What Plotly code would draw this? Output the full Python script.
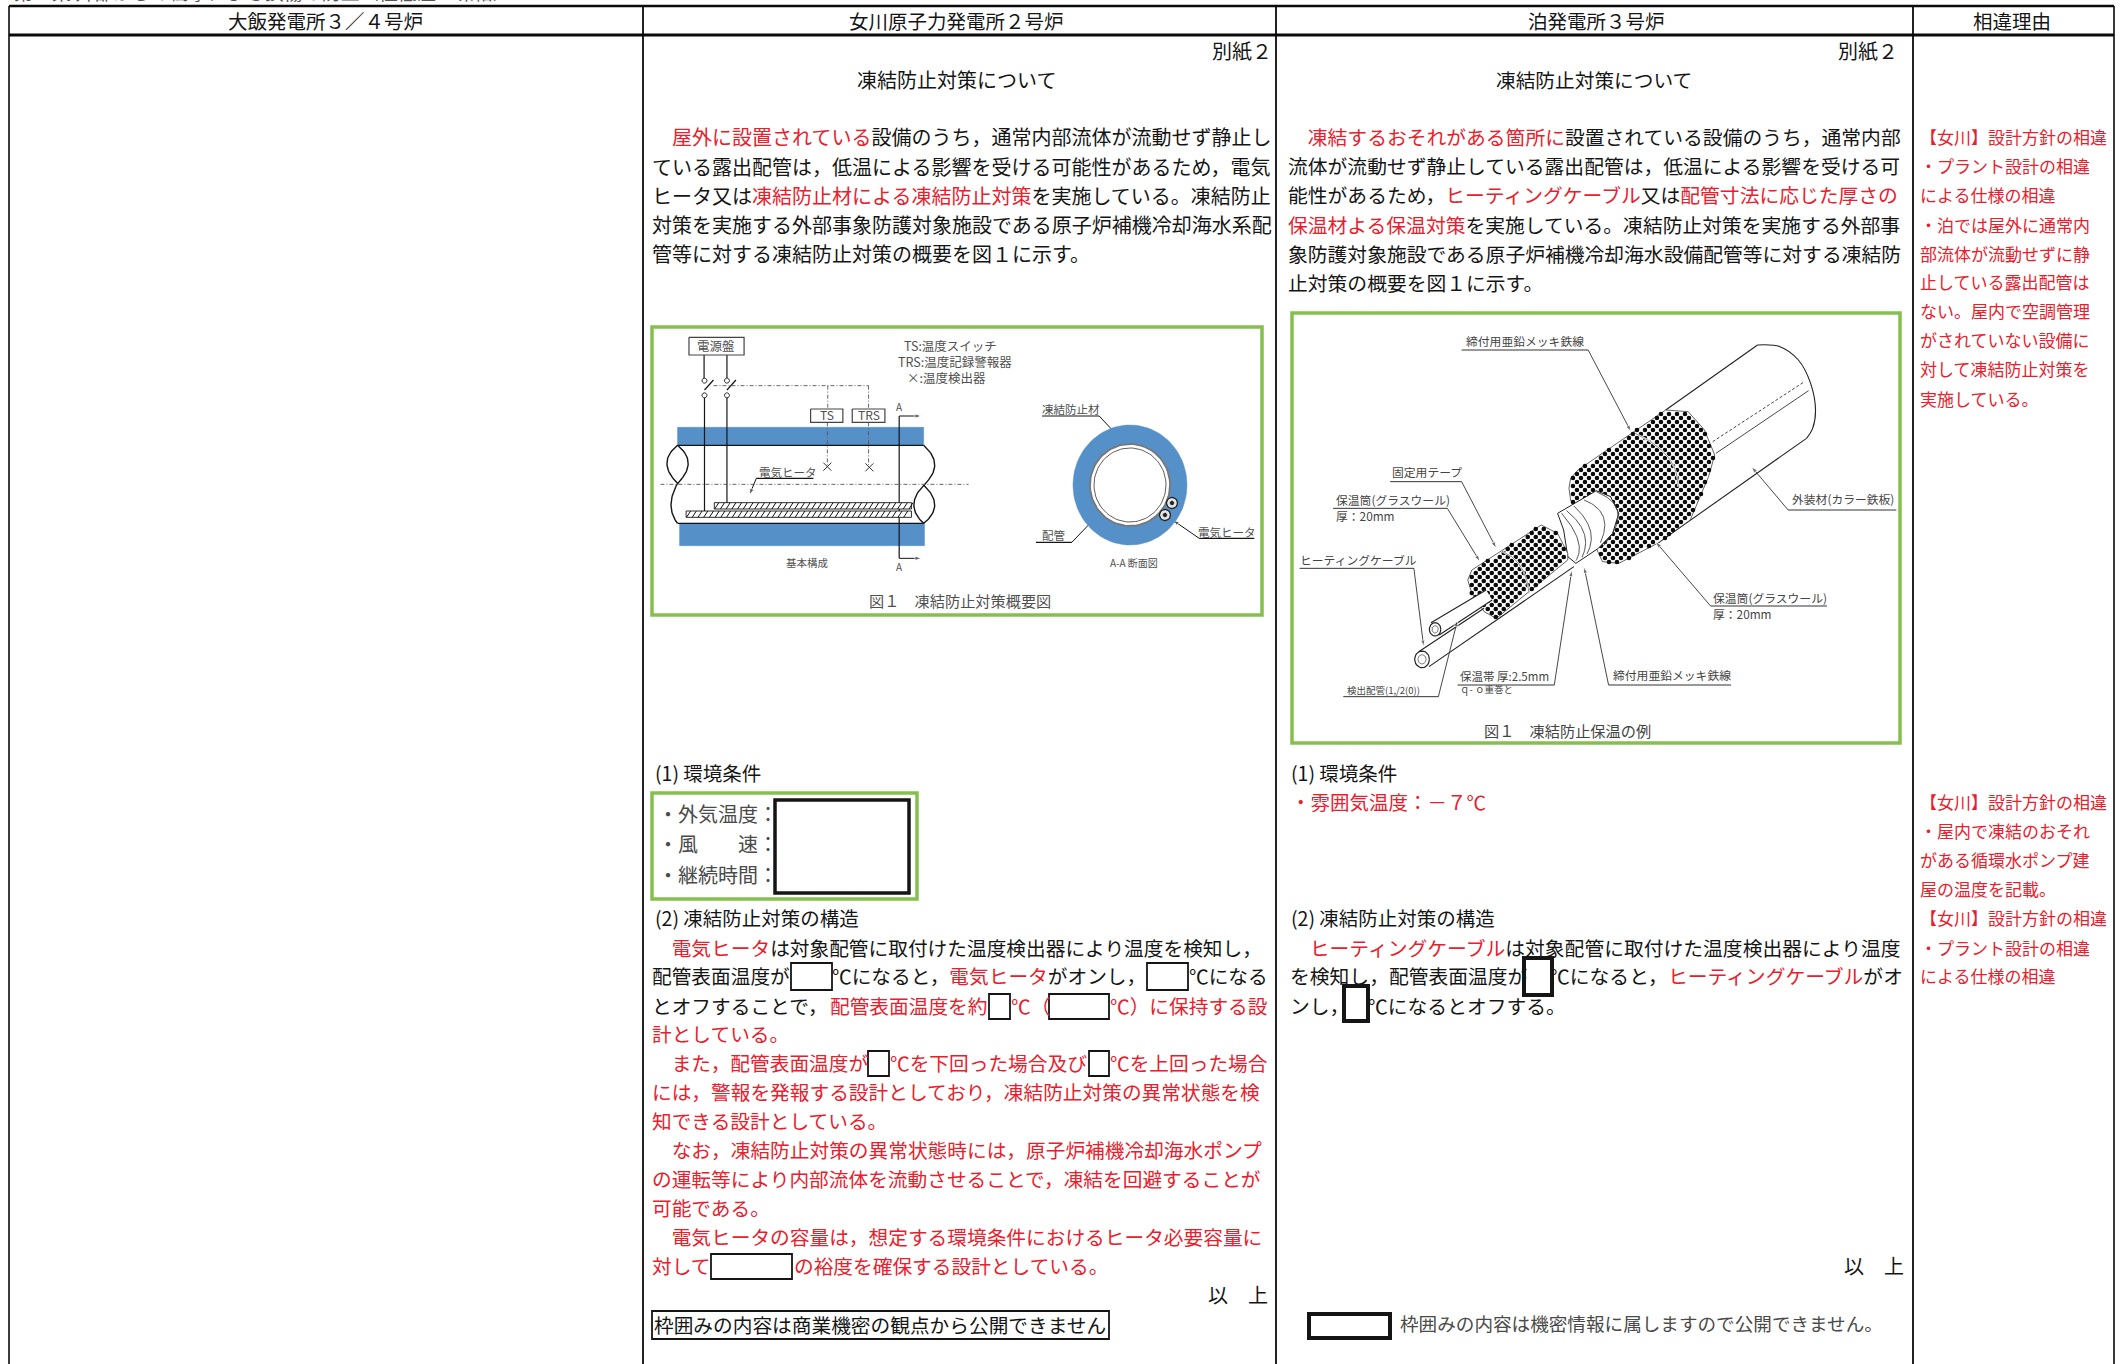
import numpy as np
import plotly.graph_objects as go

W, H = 2121, 1364
FONT = "Noto Sans CJK JP"
BLACK, RED, GRAY, GREEN, BLUE = "#151515", "#e9202c", "#4a4a4a", "#85c04e", "#5590c8"

# ---------- table ----------
table_top, header_bottom = 6, 35
col_edges = [9, 643, 1276, 1913, 2114]
header_labels = ["大飯発電所３／４号炉", "女川原子力発電所２号炉", "泊発電所３号炉", "相違理由"]
header_centers = [325, 956, 1596, 2012]

# ---------- text: (x, y, size, anchor, [(text, colour), ...]) ----------
PAGE_TITLE = "第６条 外部からの衝撃による損傷の防止（極低温・凍結）"
K, R = BLACK, RED
onagawa_lines = [
    (1272, 52, 20, "right", [("別紙２", K)]),
    (956, 81, 20, "center", [("凍結防止対策について", K)]),
    (652, 138, 20, "left", [("　", K), ("屋外に設置されている", R), ("設備のうち，通常内部流体が流動せず静止し", K)]),
    (652, 168, 20, "left", [("ている露出配管は，低温による影響を受ける可能性があるため，電気", K)]),
    (652, 197, 20, "left", [("ヒータ又は", K), ("凍結防止材による凍結防止対策", R), ("を実施している。凍結防止", K)]),
    (652, 226, 20, "left", [("対策を実施する外部事象防護対象施設である原子炉補機冷却海水系配", K)]),
    (652, 255, 20, "left", [("管等に対する凍結防止対策の概要を図１に示す。", K)]),
    (655, 774, 19.5, "left", [("(1) 環境条件", K)]),
    (655, 919, 19.5, "left", [("(2) 凍結防止対策の構造", K)]),
    (652, 948.5, 19.7, "left", [("　", K), ("電気ヒータ", R), ("は対象配管に取付けた温度検出器により温度を検知し，", K)]),
    (652, 977, 19.7, "left", [("配管表面温度が", K)]),
    (832, 977, 19.7, "left", [("℃になると，", K), ("電気ヒータ", R), ("がオンし，", K)]),
    (1189, 977, 19.7, "left", [("℃になる", K)]),
    (652, 1006.5, 19.7, "left", [("とオフすることで，", K)]),
    (830, 1006.5, 19.7, "left", [("配管表面温度を約", R)]),
    (1011, 1006.5, 19.7, "left", [("℃（", R)]),
    (1110, 1006.5, 19.7, "left", [("℃）に保持する設", R)]),
    (652, 1035, 19.7, "left", [("計としている。", R)]),
    (652, 1064, 19.7, "left", [("　また，配管表面温度が", R)]),
    (890, 1064, 19.7, "left", [("℃を下回った場合及び", R)]),
    (1110, 1064, 19.7, "left", [("℃を上回った場合", R)]),
    (652, 1093, 19.7, "left", [("には，警報を発報する設計としており，凍結防止対策の異常状態を検", R)]),
    (652, 1122, 19.7, "left", [("知できる設計としている。", R)]),
    (652, 1151, 19.7, "left", [("　なお，凍結防止対策の異常状態時には，原子炉補機冷却海水ポンプ", R)]),
    (652, 1180, 19.7, "left", [("の運転等により内部流体を流動させることで，凍結を回避することが", R)]),
    (652, 1209, 19.7, "left", [("可能である。", R)]),
    (652, 1237.5, 19.7, "left", [("　電気ヒータの容量は，想定する環境条件におけるヒータ必要容量に", R)]),
    (652, 1267, 19.7, "left", [("対して", R)]),
    (794, 1267, 19.7, "left", [("の裕度を確保する設計としている。", R)]),
    (1268, 1296, 20, "right", [("以　上", K)]),
    (654, 1325.5, 19.7, "left", [("枠囲みの内容は商業機密の観点から公開できません", K)]),
    (658, 815, 20, "left", [("・外気温度：", GRAY)]),
    (658, 845, 20, "left", [("・風　　速：", GRAY)]),
    (658, 876, 20, "left", [("・継続時間：", GRAY)]),
]
tomari_lines = [
    (1898, 52, 20, "right", [("別紙２", K)]),
    (1594, 81, 19.7, "center", [("凍結防止対策について", K)]),
    (1288, 138, 19.8, "left", [("　", K), ("凍結するおそれがある箇所に", R), ("設置されている設備のうち，通常内部", K)]),
    (1288, 167, 19.8, "left", [("流体が流動せず静止している露出配管は，低温による影響を受ける可", K)]),
    (1288, 196, 19.8, "left", [("能性があるため，", K), ("ヒーティングケーブル", R), ("又は", K), ("配管寸法に応じた厚さの", R)]),
    (1288, 226, 19.8, "left", [("保温材よる保温対策", R), ("を実施している。凍結防止対策を実施する外部事", K)]),
    (1288, 255, 19.8, "left", [("象防護対象施設である原子炉補機冷却海水設備配管等に対する凍結防", K)]),
    (1288, 284, 19.8, "left", [("止対策の概要を図１に示す。", K)]),
    (1291, 774, 19.5, "left", [("(1) 環境条件", K)]),
    (1291, 803, 19.5, "left", [("・雰囲気温度：－７℃", R)]),
    (1291, 919, 19.5, "left", [("(2) 凍結防止対策の構造", K)]),
    (1290, 948.5, 19.8, "left", [("　", K), ("ヒーティングケーブル", R), ("は対象配管に取付けた温度検出器により温度", K)]),
    (1290, 977, 19.8, "left", [("を検知し，配管表面温度が", K)]),
    (1550, 977, 19.8, "left", [("℃になると，", K), ("ヒーティングケーブル", R), ("がオ", K)]),
    (1290, 1006.5, 19.8, "left", [("ンし，", K)]),
    (1368, 1006.5, 19.8, "left", [("℃になるとオフする。", K)]),
    (1904, 1267, 20, "right", [("以　上", K)]),
    (1400, 1324, 18.6, "left", [("枠囲みの内容は機密情報に属しますので公開できません。", GRAY)]),
]
reason_x = 1920
reason_size = 17
reason_lines = [
    (138, "【女川】設計方針の相違"), (167, "・プラント設計の相違"), (196, "による仕様の相違"),
    (226, "・泊では屋外に通常内"), (255, "部流体が流動せずに静"), (283, "止している露出配管は"),
    (312, "ない。屋内で空調管理"), (341, "がされていない設備に"), (370, "対して凍結防止対策を"),
    (400, "実施している。"),
    (803, "【女川】設計方針の相違"), (832, "・屋内で凍結のおそれ"), (861, "がある循環水ポンプ建"),
    (890, "屋の温度を記載。"), (919, "【女川】設計方針の相違"), (948.5, "・プラント設計の相違"),
    (977, "による仕様の相違"),
]

# ---------- framed boxes: x0, y0, x1, y1, colour, width ----------
boxes = [
    (652, 327, 1262, 615, GREEN, 3.5),
    (1292, 313, 1900, 743, GREEN, 3.5),
    (652, 793, 917, 899, GREEN, 3.5),
    (775, 800, 909, 893, BLACK, 3.5),
    (791, 963, 832, 990, BLACK, 1.8), (1147, 963, 1188, 990, BLACK, 1.8),
    (989, 994, 1010, 1019, BLACK, 1.8), (1049, 994, 1109, 1019, BLACK, 1.8),
    (868, 1051, 889, 1076, BLACK, 1.8), (1089, 1051, 1109, 1076, BLACK, 1.8),
    (711, 1254, 792, 1279, BLACK, 1.8),
    (652, 1311, 1109, 1339, BLACK, 1.8),
    (1524, 958, 1552, 995, BLACK, 4), (1344, 986, 1368, 1021, BLACK, 4),
    (1309, 1314, 1390, 1338, BLACK, 4),
]

# ---------- figure 1 (freeze protection schematic), reference-crop coordinates ----------
fig1_texts = [
    (187, 110, 12.5, "center", "電源盤"), (648, 112, 12.5, "left", "TS:温度スイッチ"),
    (632, 160, 12.5, "left", "TRS:温度記録警報器"), (655, 208, 12.5, "left", "×:温度検出器"),
    (457, 318, 12, "center", "TS"), (560, 318, 12, "center", "TRS"),
    (636, 295, 10, "center", "A"), (636, 775, 10, "center", "A"),
    (362, 490, 11.5, "center", "電気ヒータ"), (410, 762, 10.5, "center", "基本構成"),
    (1210, 762, 10, "center", "A-A 断面図"), (1055, 300, 11.5, "center", "凍結防止材"),
    (1012, 678, 11.5, "center", "配管"), (1438, 670, 11.5, "center", "電気ヒータ"),
    (785, 873, 15.2, "center", "図１　凍結防止対策概要図"),
]
fig1_rects = [(120, 82, 255, 135), (418, 297, 497, 337), (520, 297, 600, 337)]
fig1_blue = [(92, 352, 695, 405), (97, 640, 697, 707)]
pipe_curves = [
    [(92, 406), (118, 460), (92, 520), (76, 585), (92, 640)],
    [(92, 406), (66, 460), (92, 520)],
    [(695, 406), (722, 465), (695, 525), (671, 585), (695, 640)],
    [(695, 525), (722, 585), (695, 640)],
]
fig1_solid = [
    [(92, 406), (695, 406)], [(92, 640), (695, 640)],
    [(157, 135), (157, 205)], [(213, 135), (213, 205)],
    [(158, 262), (158, 605)], [(213, 262), (213, 580)],
    [(158, 240), (180, 210)], [(213, 240), (235, 210)],
    [(635, 318), (635, 745)],
    [(985, 318), (1125, 318)], [(970, 697), (1058, 697)], [(1370, 685), (1505, 685)],
    [(285, 505), (425, 505)],
]
fig1_dashed = [
    [(180, 227), (560, 227)], [(460, 227), (460, 297)], [(560, 227), (560, 297)],
    [(459, 337), (459, 468)], [(560, 337), (560, 465)], [(50, 523), (805, 523)],
]
fig1_switch_dots = [(158, 212), (213, 212), (158, 256), (213, 256)]
fig1_crosses = [(459, 470), (562, 472)]
fig1_arrows = [
    [(635, 318), (690, 318)], [(635, 745), (690, 745)], [(285, 505), (268, 555)],
    [(1125, 318), (1180, 390)], [(1058, 697), (1130, 605)], [(1370, 685), (1305, 630)],
]
heater_bars = [(182, 578, 665, 597), (113, 603, 665, 622)]
section_center = (1130, 485)  # full-size pixels
section_radii = {"outer": (57, 60), "ring": (40, 41), "bore": (36, 37)}
section_heaters = [(1172, 503), (1165, 515)]

# ---------- figure 2 (insulation example), reference-crop coordinates ----------
fig2_texts = [
    (600, 125, 11.8, "center", "締付用亜鉛メッキ鉄線"), (360, 520, 11.8, "center", "固定用テープ"),
    (137, 603, 11.8, "left", "保温筒(グラスウール)"), (137, 650, 11.8, "left", "厚：20mm"),
    (50, 783, 11.8, "left", "ヒーティングケーブル"), (1255, 600, 11.8, "left", "外装材(カラー鉄板)"),
    (1062, 898, 11.8, "left", "保温筒(グラスウール)"), (1062, 945, 11.8, "left", "厚：20mm"),
    (440, 1132, 11.5, "left", "保温帯 厚:2.5mm"), (440, 1172, 9.5, "left", "ｑ- ｏ重巻と"),
    (815, 1127, 11.8, "left", "締付用亜鉛メッキ鉄線"), (165, 1175, 9.5, "left", "検出配管(1,/2(0))"),
    (705, 1295, 15.2, "center", "図１　凍結防止保温の例"),
]
fig2_leaders = [
    ([(445, 150), (755, 150)], (860, 395)), ([(270, 545), (445, 545)], (530, 745)),
    ([(130, 625), (410, 625)], (490, 785)), ([(48, 805), (328, 805)], (352, 1040)),
    ([(1510, 630), (1245, 630)], (1155, 500)), ([(1340, 918), (1055, 918)], (920, 725)),
    ([(435, 1155), (672, 1155)], (715, 810)), ([(1105, 1155), (805, 1155)], (745, 800)),
    ([(155, 1190), (388, 1190)], (435, 960)),
]
jacket_top = [(945, 330), (1170, 135)]
jacket_end = [(1170, 135), (1225, 140), (1270, 180), (1300, 250), (1312, 330), (1305, 385), (1290, 415)]
jacket_bottom = [(1290, 415), (925, 730)]
checker_large = [(712, 535), (730, 510), (945, 330), (1000, 335), (1040, 390), (1065, 465),
                 (1050, 530), (1005, 660), (925, 730), (830, 790), (790, 785), (775, 745),
                 (712, 600), (708, 565)]
middle_band = [(680, 640), (775, 572), (810, 590), (830, 640), (815, 700), (780, 745), (725, 790),
               (705, 770), (695, 690)]
checker_small = [(470, 810), (640, 675), (680, 700), (705, 760), (705, 780), (530, 955),
                 (500, 935), (470, 880), (460, 840)]
band_arcs = [
    [(690, 640), (730, 720), (725, 782)], [(702, 632), (745, 700), (740, 772)],
    [(720, 618), (760, 690), (752, 762)], [(745, 600), (792, 650), (785, 728)],
    [(775, 575), (828, 640), (792, 738)],
]
wire_arcs = [[(870, 400), (950, 470), (975, 560), (960, 640)], [(545, 755), (590, 800), (610, 880)]]
fig2_lines = [
    [(1060, 425), (1285, 245)], [(1068, 460), (1295, 272)], [(340, 1055), (500, 925)],
    [(365, 1100), (720, 800)], [(370, 968), (505, 870)], [(390, 1005), (520, 900)],
]
tube_ends = [(348, 1078, 18, 25), (380, 988, 14, 20)]


def a(x, y):
    return 640 + x / 2.45, 310 + y / 3


def b(x, y):
    return 1280 + x / 2.45, 300 + y / 3


fig = go.Figure()


def poly(pts, fill=None, color=BLACK, width=1.0, dash=None, close=False, shape="linear"):
    xs = [p[0] for p in pts]
    ys = [p[1] for p in pts]
    if close:
        xs.append(xs[0])
        ys.append(ys[0])
    fig.add_trace(go.Scatter(
        x=xs, y=ys, mode="lines", hoverinfo="skip", showlegend=False,
        line=dict(color=color, width=width, dash=dash, shape=shape) if width else dict(width=0),
        fill="toself" if fill else None, fillcolor=fill))


def smooth(pts, n=30):
    """Quadratic-style smoothing through control points."""
    pts = np.array(pts, float)
    out = []
    for i in range(0, len(pts) - 2, 2):
        p0, p1, p2 = pts[i], pts[i + 1], pts[i + 2]
        c = 2 * p1 - (p0 + p2) / 2
        for t in np.linspace(0, 1, n):
            out.append(tuple((1 - t) ** 2 * p0 + 2 * t * (1 - t) * c + t ** 2 * p2))
    return out


def ellipse(cx, cy, rx, ry, n=90):
    t = np.linspace(0, 2 * np.pi, n)
    return list(zip(cx + rx * np.cos(t), cy + ry * np.sin(t)))


def arrow(p, q, color=BLACK, width=1.0, size=7):
    fig.add_trace(go.Scatter(
        x=[p[0], q[0]], y=[p[1], q[1]], mode="lines+markers", hoverinfo="skip", showlegend=False,
        line=dict(color=color, width=width),
        marker=dict(symbol="arrow", angleref="previous", size=[0, size], color=color)))


def inside(px, py, pts):
    pts = np.array(pts, float)
    res = np.zeros_like(px, dtype=bool)
    x1, y1 = pts[:, 0], pts[:, 1]
    x2, y2 = np.roll(x1, -1), np.roll(y1, -1)
    for xa, ya, xb, yb in zip(x1, y1, x2, y2):
        cond = (ya > py) != (yb > py)
        with np.errstate(divide="ignore", invalid="ignore"):
            xi = (xb - xa) * (py - ya) / (yb - ya) + xa
        res ^= cond & (px < xi)
    return res


def checker(pts, pitch=8.0):
    xs = [p[0] for p in pts]
    ys = [p[1] for p in pts]
    gx, gy = [], []
    row = 0
    y = min(ys)
    while y <= max(ys):
        gx_row = np.arange(min(xs) + (row % 2) * pitch / 2, max(xs), pitch)
        gx.append(gx_row)
        gy.append(np.full_like(gx_row, y))
        y += pitch / 2
        row += 1
    gx = np.concatenate(gx)
    gy = np.concatenate(gy)
    m = inside(gx, gy, pts)
    fig.add_trace(go.Scatter(
        x=gx[m], y=gy[m], mode="markers", hoverinfo="skip", showlegend=False,
        marker=dict(symbol="circle", size=4.6, color="#0a0a0a", line=dict(width=0))))


# ----- figure 1 -----
for x0, y0, x1, y1 in fig1_blue:
    poly([a(x0, y0), a(x1, y0), a(x1, y1), a(x0, y1)], fill=BLUE, color=BLUE, width=0.5, close=True)
for c in pipe_curves:
    poly([a(*p) for p in smooth(c)], color=BLACK, width=1.4)
for seg in fig1_solid:
    poly([a(*p) for p in seg], color=BLACK, width=1.2)
for seg in fig1_dashed:
    poly([a(*p) for p in seg], color="#555555", width=0.9, dash="4px,2px,1px,2px")
for x0, y0, x1, y1 in fig1_rects:
    poly([a(x0, y0), a(x1, y0), a(x1, y1), a(x0, y1)], color="#444444", width=1.2, close=True)
for p in fig1_switch_dots:
    cx, cy = a(*p)
    poly(ellipse(cx, cy, 2.5, 2.5, 20), fill="white", color=BLACK, width=0.9)
for p in fig1_crosses:
    cx, cy = a(*p)
    poly([(cx - 4, cy - 4), (cx + 4, cy + 4)], color="#333333", width=1)
    poly([(cx - 4, cy + 4), (cx + 4, cy - 4)], color="#333333", width=1)
for x0, y0, x1, y1 in heater_bars:
    poly([a(x0, y0), a(x1, y0), a(x1, y1), a(x0, y1)], fill="white", color=BLACK, width=0.9, close=True)
    tx, ty = [], []
    for xt in np.arange(x0 + 6, x1, 14):
        tx += [a(xt - 5, y1)[0], a(xt + 5, y0)[0], None]
        ty += [a(xt - 5, y1)[1], a(xt + 5, y0)[1], None]
    fig.add_trace(go.Scatter(x=tx, y=ty, mode="lines", hoverinfo="skip", showlegend=False,
                             line=dict(color="#111111", width=1.0)))
for p, q in fig1_arrows:
    arrow(a(*p), a(*q))
cx, cy = section_center
poly(ellipse(cx, cy, *section_radii["outer"]), fill=BLUE, color=BLUE, width=0.5)
poly(ellipse(cx, cy, *section_radii["ring"]), fill="white", color="#777777", width=1.8)
poly(ellipse(cx, cy, *section_radii["bore"]), fill="white", color="#333333", width=0.8)
for hx, hy in section_heaters:
    poly(ellipse(hx, hy, 5.5, 5.5, 24), fill="#e8e8e8", color="#222222", width=1.3)
    poly(ellipse(hx, hy, 2, 2, 16), fill="#222222", color="#222222", width=0.5)

# ----- figure 2 -----
poly([b(*p) for p in jacket_top], color="#222222", width=1.1)
poly([b(*p) for p in jacket_end], color="#222222", width=1.1, shape="spline")
poly([b(*p) for p in jacket_bottom], color="#222222", width=1.1)
for i, seg in enumerate(fig2_lines[:2]):
    poly([b(*p) for p in seg], color="#333333", width=0.9, dash="3px,2px" if i == 0 else None)
poly([b(*p) for p in checker_large], fill="white", color="#222222", width=0.7, close=True)
checker([b(*p) for p in checker_large])
poly([b(*p) for p in middle_band], fill="white", color="#222222", width=1, close=True)
for arc in band_arcs:
    poly([b(*p) for p in smooth(arc)], color="#444444", width=0.9)
poly([b(*p) for p in checker_small], fill="white", color="#222222", width=0.7, close=True)
checker([b(*p) for p in checker_small])
for arc in wire_arcs:
    pts = arc if len(arc) % 2 == 1 else arc[:-1]
    poly([b(*p) for p in smooth(pts)], color="#ffffff", width=1.8)
    poly([b(*p) for p in smooth(pts)], color="#444444", width=0.6)
poly([b(370, 968), b(505, 870), b(520, 900), b(390, 1005)], fill="white", color="white", width=0.1, close=True)
for seg in fig2_lines[2:]:
    poly([b(*p) for p in seg], color="#222222", width=1.1)
for ex, ey, rx, ry in tube_ends:
    cxe, cye = b(ex, ey)
    poly(ellipse(cxe, cye, rx / 2.45, ry / 3, 30), fill="white", color="#222222", width=1.2)
    poly(ellipse(cxe, cye, rx / 2.45 * 0.55, ry / 3 * 0.55, 24), fill="white", color="#444444", width=0.7)
for under, tip in fig2_leaders:
    poly([b(*p) for p in under], color="#333333", width=1)
    arrow(b(*under[1]), b(*tip), color="#333333", width=0.9)


# ----- shapes: table rules, framed boxes -----
def rule(x0, y0, x1, y1, w, color="#0a0a0a"):
    fig.add_shape(type="line", x0=x0, y0=y0, x1=x1, y1=y1, xref="x", yref="y",
                  line=dict(color=color, width=w))


rule(col_edges[0], table_top, col_edges[-1], table_top, 2.6)
rule(col_edges[0], header_bottom, col_edges[-1], header_bottom, 3)
for i, xc in enumerate(col_edges):
    rule(xc, table_top, xc, H, 1.8 if i in (1, 2, 3) else 1.6)

for x0, y0, x1, y1, c, w in boxes:
    fig.add_shape(type="rect", x0=x0, y0=y0, x1=x1, y1=y1, xref="x", yref="y",
                  line=dict(color=c, width=w), fillcolor="rgba(255,255,255,0)")


# ----- text -----
TEXT_DY = -1.5


def text(x, y, size, anchor, runs, yanchor="middle"):
    html = "".join(f'<span style="color:{c}">{t}</span>' for t, c in runs)
    fig.add_annotation(x=x, y=y + TEXT_DY, xref="x", yref="y", text=html, showarrow=False,
                       xanchor=anchor, yanchor=yanchor, align=anchor,
                       borderpad=0, borderwidth=0,
                       font=dict(family=FONT, size=size, color=BLACK))


text(14, 7, 19, "left", [(PAGE_TITLE, "#555555")], yanchor="bottom")
for lab, xc in zip(header_labels, header_centers):
    text(xc, 22, 19.5, "center", [(lab, BLACK)])
for x, y, s, anc, runs in onagawa_lines + tomari_lines:
    text(x, y, s, anc, runs)
for y, t in reason_lines:
    text(reason_x, y, reason_size, "left", [(t, RED)])
for x, y, s, anc, t in fig1_texts:
    xp, yp = a(x, y)
    text(xp, yp, s, anc, [(t, "#505050")])
for x, y, s, anc, t in fig2_texts:
    xp, yp = b(x, y)
    text(xp, yp, s, anc, [(t, "#444444")])

fig.update_layout(
    width=W, height=H, margin=dict(l=0, r=0, t=0, b=0), showlegend=False,
    paper_bgcolor="white", plot_bgcolor="white",
    xaxis=dict(range=[0, W], visible=False, fixedrange=True),
    yaxis=dict(range=[H, 0], visible=False, fixedrange=True),
)
fig.write_html("out.html", post_script="document.body.style.margin='0';document.documentElement.style.overflow='hidden';",
               config={"displayModeBar": False})
